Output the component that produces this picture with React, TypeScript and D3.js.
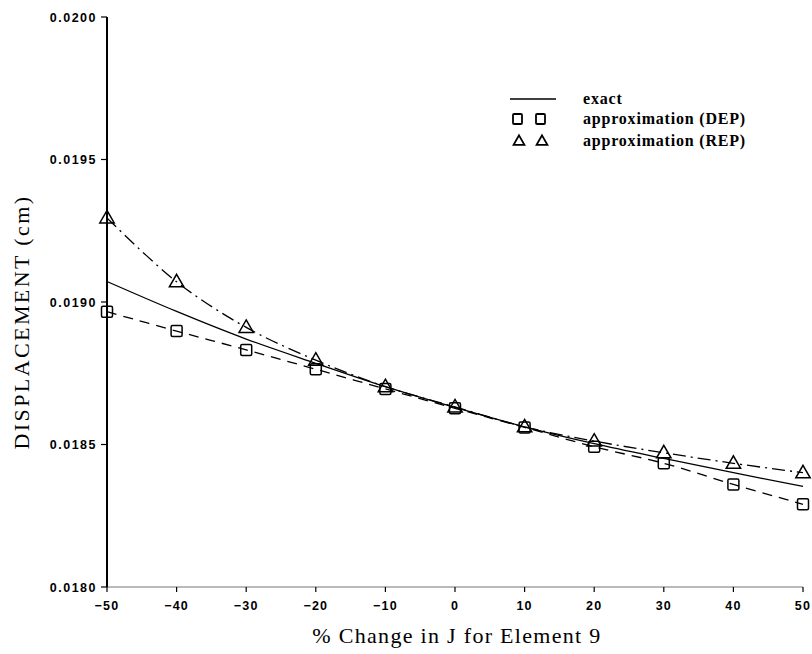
import React from "react";
import * as d3 from "d3";

// Percent change in J for element 9
const changes = [-50, -40, -30, -20, -10, 0, 10, 20, 30, 40, 50];
// Displacement (cm)
const exact = [0.019072, 0.018967, 0.01887, 0.018785, 0.018703, 0.01863, 0.018562, 0.018503, 0.018451, 0.018401, 0.018353];
const approxDEP = [0.018966, 0.018898, 0.018832, 0.018764, 0.018695, 0.018627, 0.01856, 0.018492, 0.018434, 0.01836, 0.01829];
const approxREP = [0.019295, 0.019071, 0.018911, 0.018796, 0.018703, 0.018632, 0.018562, 0.018512, 0.018471, 0.018434, 0.018401];

const xTicks = [-50, -40, -30, -20, -10, 0, 10, 20, 30, 40, 50];
const yTicks = [0.018, 0.0185, 0.019, 0.0195, 0.02];

const W = 812;
const H = 654;
const left = 107;
const right = 803;
const top = 17;
const bottom = 587;

export default function App() {
  const x = d3.scaleLinear().domain([-50, 50]).range([left, right]);
  const y = d3.scaleLinear().domain([0.018, 0.02]).range([bottom, top]);

  const line = d3
    .line<number>()
    .x((_, i) => x(changes[i]))
    .y((d) => y(d))
    .curve(d3.curveCatmullRom.alpha(0.5));

  const tickFont = "'Liberation Sans', Arial, sans-serif";
  const serif = "'Liberation Serif', 'Times New Roman', serif";

  const tri = (cx: number, cy: number, s: number) =>
    `M${cx},${cy - s * 0.62}L${cx + s * 0.6},${cy + s * 0.42}L${cx - s * 0.6},${cy + s * 0.42}Z`;

  return (
    <svg
      width={W}
      height={H}
      style={{ position: "absolute", left: 0, top: 0, background: "#fff" }}
    >
      {/* axes */}
      <line x1={left} x2={right} y1={bottom} y2={bottom} stroke="#777" strokeWidth={1.2} />
      <line x1={left} x2={left} y1={top} y2={bottom} stroke="#000" strokeWidth={2} />

      {xTicks.map((t) => (
        <g key={"x" + t}>
          <line x1={x(t)} x2={x(t)} y1={bottom} y2={bottom + 5} stroke="#000" strokeWidth={1.2} />
          <text
            x={x(t)}
            y={bottom + 23}
            textAnchor="middle"
            fontFamily={tickFont}
            fontWeight="bold"
            fontSize={12.5}
            letterSpacing={1.2}
          >
            {t < 0 ? "\u2212" + Math.abs(t) : String(t)}
          </text>
        </g>
      ))}

      {yTicks.map((t) => (
        <g key={"y" + t}>
          <line x1={left - 6} x2={left} y1={y(t)} y2={y(t)} stroke="#000" strokeWidth={1.2} />
          <text
            x={left - 10}
            y={y(t) + 4.5}
            textAnchor="end"
            fontFamily={tickFont}
            fontWeight="bold"
            fontSize={12.5}
            letterSpacing={1.5}
          >
            {t.toFixed(4)}
          </text>
        </g>
      ))}

      {/* axis titles */}
      <text
        x={457}
        y={643}
        textAnchor="middle"
        fontFamily={serif}
        fontSize={22}
        letterSpacing={1.3}
      >
        % Change in J for Element 9
      </text>
      <text
        transform={`translate(29,322) rotate(-90)`}
        textAnchor="middle"
        fontFamily={serif}
        fontSize={22}
        letterSpacing={2.4}
      >
        DISPLACEMENT (cm)
      </text>

      {/* curves */}
      <path d={line(exact) ?? ""} fill="none" stroke="#000" strokeWidth={1.3} />
      <path d={line(approxDEP) ?? ""} fill="none" stroke="#000" strokeWidth={1.3} strokeDasharray="10,7" />
      <path d={line(approxREP) ?? ""} fill="none" stroke="#000" strokeWidth={1.3} strokeDasharray="13,5,2,5" />

      {/* markers */}
      {approxDEP.map((v, i) => (
        <rect
          key={"s" + i}
          x={x(changes[i]) - 5.5}
          y={y(v) - 5.5}
          width={11}
          height={11}
          rx={1.5}
          fill="none"
          stroke="#000"
          strokeWidth={1.5}
        />
      ))}
      {approxREP.map((v, i) => (
        <path key={"t" + i} d={tri(x(changes[i]), y(v), 12)} fill="none" stroke="#000" strokeWidth={1.5} />
      ))}

      {/* legend */}
      <g fontFamily={serif} fontWeight="bold" fontSize={16} letterSpacing={0.8}>
        <line x1={510} x2={556} y1={99} y2={99} stroke="#000" strokeWidth={1.5} />
        <text x={583} y={104}>exact</text>
        <rect x={513} y={114} width={9} height={10} rx={1} fill="none" stroke="#000" strokeWidth={1.8} />
        <rect x={536} y={114} width={9} height={10} rx={1} fill="none" stroke="#000" strokeWidth={1.8} />
        <text x={583} y={124}>approximation (DEP)</text>
        <path d={tri(519, 141, 9)} fill="none" stroke="#000" strokeWidth={1.8} />
        <path d={tri(542, 141, 9)} fill="none" stroke="#000" strokeWidth={1.8} />
        <text x={583} y={146}>approximation (REP)</text>
      </g>
    </svg>
  );
}
